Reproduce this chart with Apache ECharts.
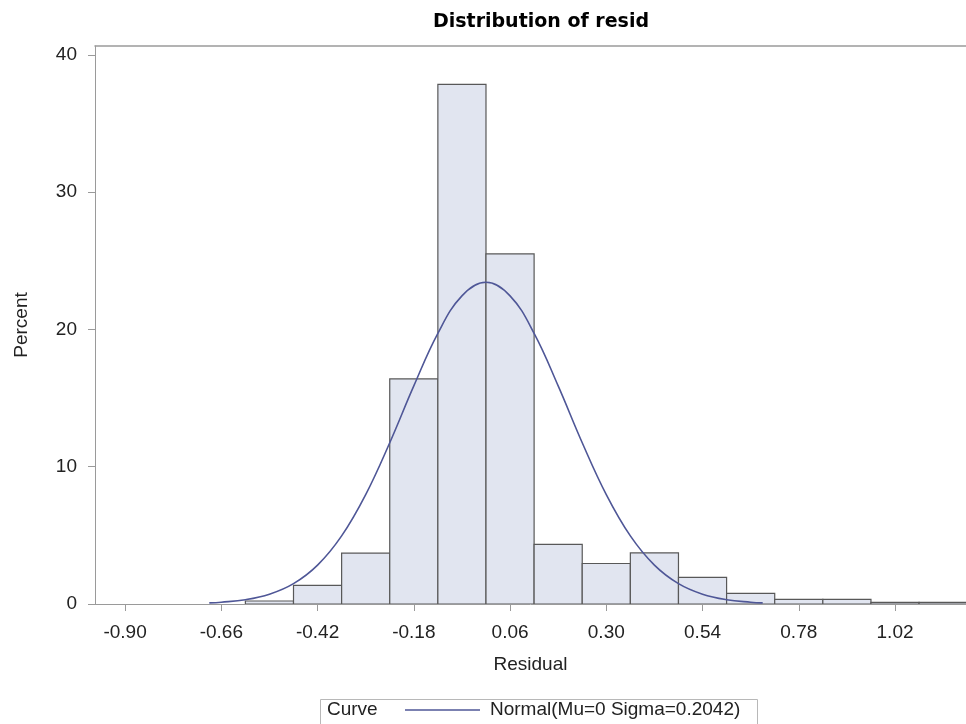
<!DOCTYPE html>
<html>
<head>
<meta charset="utf-8">
<script src="https://cdn.jsdelivr.net/npm/echarts@6/dist/echarts.min.js"></script>
<style>
html,body{margin:0;padding:0;background:#fff;}
#chart{width:966px;height:724px;}
</style>
</head>
<body>
<div id="chart"></div>
<script>
// ---- data ----
var binCenters = [-0.54, -0.42, -0.30, -0.18, -0.06, 0.06, 0.18, 0.30, 0.42, 0.54, 0.66, 0.78, 0.90, 1.02, 1.14];
var binPercents = [0.22, 1.36, 3.7, 16.4, 37.85, 25.5, 4.35, 2.95, 3.72, 1.94, 0.78, 0.34, 0.34, 0.12, 0.12];
var binWidth = 0.12;
var curveX = [-0.69, -0.66, -0.60, -0.54, -0.48, -0.42, -0.36, -0.30, -0.24, -0.18, -0.12, -0.06, 0.00, 0.06, 0.12, 0.18, 0.24, 0.30, 0.36, 0.42, 0.48, 0.54, 0.60, 0.66, 0.69];
var curveY = [0.08, 0.13, 0.31, 0.71, 1.48, 2.83, 4.96, 7.97, 11.75, 15.89, 19.72, 22.45, 23.44, 22.45, 19.72, 15.89, 11.75, 7.97, 4.96, 2.83, 1.48, 0.71, 0.31, 0.13, 0.08];
var xTickValues = [-0.90, -0.66, -0.42, -0.18, 0.06, 0.30, 0.54, 0.78, 1.02];
var yTickValues = [0, 10, 20, 30, 40];
var titleText = 'Distribution of resid';
var xName = 'Residual';
var yName = 'Percent';
var legendTitle = 'Curve';
var curveName = 'Normal(Mu=0 Sigma=0.2042)';

var histData = binCenters.map(function (c, i) { return [c, binPercents[i]]; });
var curveData = curveX.map(function (x, i) { return [x, curveY[i]]; });

var labelFont = 'Liberation Sans, Arial, sans-serif';
var axisGray = '#9a9a9a';
var curveColor = '#4f5797';
var xMin = -0.975, xMax = 1.197;

var chart = echarts.init(document.getElementById('chart'), null, {renderer: 'canvas'});
chart.setOption({
  animation: false,
  backgroundColor: '#ffffff',
  title: {
    text: titleText,
    left: 536,
    top: 8,
    textAlign: 'center',
    textStyle: {fontFamily: 'DejaVu Sans', fontWeight: 'bold', fontSize: 19, color: '#000'}
  },
  grid: {
    left: 95, top: 46, right: 0, bottom: 120, show: false
  },
  legend: {
    data: [curveName],
    left: 405,
    top: 699,
    padding: 0,
    icon: 'rect',
    itemWidth: 75,
    itemHeight: 1.5,
    itemStyle: {color: curveColor},
    textStyle: {fontFamily: labelFont, fontSize: 19, color: '#222', padding: [0, 0, 0, 5], lineHeight: 22}
  },
  graphic: [
    {type: 'rect', left: 318, top: 697, shape: {width: 437, height: 26},
     style: {fill: 'none', stroke: '#b8b8b8', lineWidth: 1}, silent: true},
    {type: 'text', left: 327, top: 699,
     style: {text: legendTitle, font: '19px ' + labelFont, fill: '#222', lineHeight: 22}, silent: true}
  ],
  xAxis: [{
    type: 'value',
    min: xMin,
    max: xMax,
    name: xName,
    nameLocation: 'middle',
    nameGap: 51,
    nameTextStyle: {fontFamily: labelFont, fontSize: 19, color: '#222'},
    axisLine: {show: true, onZero: false, lineStyle: {color: axisGray, width: 1}},
    axisTick: {show: true, length: 7, lineStyle: {color: axisGray}, customValues: xTickValues},
    axisLabel: {
      margin: 19, fontFamily: labelFont, fontSize: 19, color: '#222',
      customValues: xTickValues,
      formatter: function (v) { return v.toFixed(2); }
    },
    splitLine: {show: false}
  }, {
    type: 'value',
    position: 'top',
    min: xMin,
    max: xMax,
    axisLine: {show: true, onZero: false, lineStyle: {color: axisGray, width: 1.5}},
    axisTick: {show: false},
    axisLabel: {show: false},
    splitLine: {show: false}
  }],
  yAxis: {
    type: 'value',
    min: 0,
    max: 40.65,
    name: yName,
    nameLocation: 'middle',
    nameGap: 64,
    nameTextStyle: {fontFamily: labelFont, fontSize: 19, color: '#222'},
    axisLine: {show: true, onZero: false, lineStyle: {color: axisGray, width: 1}},
    axisTick: {show: true, length: 7, lineStyle: {color: axisGray}, customValues: yTickValues},
    axisLabel: {margin: 18, fontFamily: labelFont, fontSize: 19, color: '#222', customValues: yTickValues},
    splitLine: {show: false}
  },
  series: [
    {
      type: 'custom',
      name: 'hist',
      data: histData,
      xAxisIndex: 0,
      clip: true,
      renderItem: function (params, api) {
        var c = api.value(0), v = api.value(1);
        var p0 = api.coord([c - binWidth / 2, v]);
        var p1 = api.coord([c + binWidth / 2, 0]);
        return {
          type: 'rect',
          shape: {x: p0[0], y: p0[1], width: p1[0] - p0[0], height: p1[1] - p0[1]},
          style: {fill: '#e1e5f0', stroke: '#585858', lineWidth: 1.2}
        };
      },
      encode: {x: 0, y: 1},
      z: 2
    },
    {
      type: 'line',
      name: curveName,
      data: curveData,
      xAxisIndex: 0,
      smooth: 0.4,
      symbol: 'none',
      showSymbol: false,
      lineStyle: {color: curveColor, width: 1.6},
      itemStyle: {color: curveColor},
      z: 3
    }
  ]
});
</script>
</body>
</html>
